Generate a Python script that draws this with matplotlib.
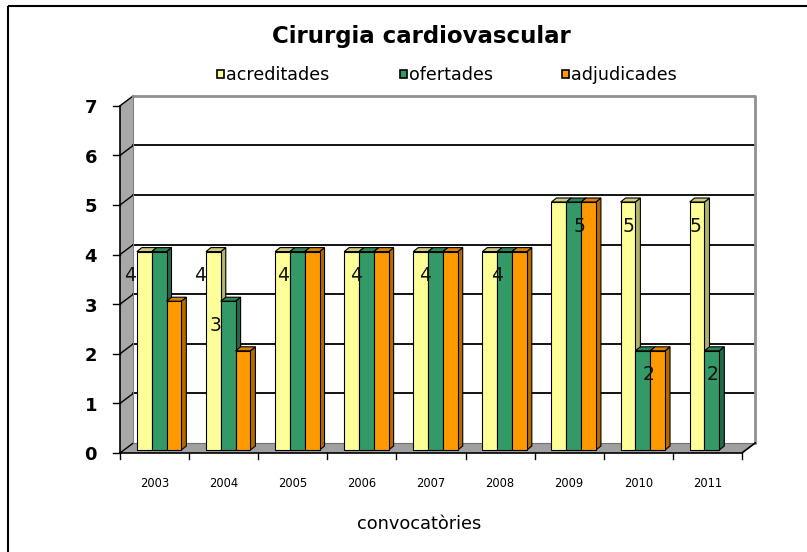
import matplotlib
matplotlib.use("Agg")
import matplotlib.pyplot as plt
from matplotlib.patches import Polygon, Rectangle

# ---------------- data ----------------
years = ["2003", "2004", "2005", "2006", "2007", "2008", "2009", "2010", "2011"]
acreditades = [4, 4, 4, 4, 4, 4, 5, 5, 5]
ofertades = [4, 3, 4, 4, 4, 4, 5, 2, 2]
adjudicades = [3, 2, 4, 4, 4, 4, 5, 2, 0]
series_names = ["acreditades", "ofertades", "adjudicades"]
y_ticks = [0, 1, 2, 3, 4, 5, 6, 7]
title = "Cirurgia cardiovascular"
x_title = "convocatòries"

# data labels shown in the chart: (category index, series name)
label_cats = [0, 1, 1, 2, 3, 4, 5, 6, 7, 7, 8, 8]
label_series = ["acreditades", "acreditades", "ofertades", "acreditades", "acreditades",
                "acreditades", "acreditades", "adjudicades", "acreditades", "adjudicades",
                "acreditades", "ofertades"]

# ---------------- style ----------------
face_cols = ["#FFFF99", "#339966", "#FF9900"]
side_cols = ["#B3B36B", "#23694A", "#B36B00"]
top_cols = ["#CCCC7A", "#2B8557", "#D98200"]
label_xoff = [0.152, 0.158, 0.382, 0.359, 0.415, 0.408, 0.45, 0.653, 0.362, 0.651, 0.326, 0.58]

W, H = 807, 552
PX_X0, PX_CAT = 120.0, 69.1     # pixel of x=0 and pixels per category
PX_Y0, PX_UNIT = 453.0, 49.6    # pixel of y=0 and pixels per unit

def dx(px):  # pixel distance -> data x distance
    return px / PX_CAT

def dy(px):
    return px / PX_UNIT

def X(px):
    return (px - PX_X0) / PX_CAT

def Y(py):
    return (PX_Y0 - py) / PX_UNIT

DX, DY = dx(13.3), dy(10.0)          # wall depth
BY0 = dy(3.0)                        # bar front face base
BDX, BDY = dx(5.0), dy(4.0)          # bar depth
BAR_PAD, BAR_W = 0.244, 0.2145
XR = len(years) + DX
YT = max(y_ticks)

fig = plt.figure(figsize=(W / 100, H / 100), dpi=100)
ax = fig.add_axes([0, 0, 1, 1])
ax.set_xlim(X(0), X(W))
ax.set_ylim(Y(H), Y(0))
ax.axis("off")

# outer frame
ax.add_patch(Rectangle((X(8), Y(6)), X(W + 20) - X(8), Y(H + 20) - Y(6),
                       fill=False, ec="black", lw=1.5, clip_on=False))

# back wall
ax.add_patch(Polygon([(DX, DY), (XR, DY), (XR, YT + DY), (DX, YT + DY)],
                     closed=True, fc="white", ec="none", zorder=1))
# left wall
ax.add_patch(Polygon([(0, 0), (DX, DY), (DX, YT + DY), (0, YT)],
                     closed=True, fc="#A8A8A8", ec="none", zorder=1))
# floor
ax.add_patch(Polygon([(0, 0), (len(years), 0), (XR, DY), (DX, DY)],
                     closed=True, fc="#A0A0A0", ec="none", zorder=1))

# gridlines on back wall + left wall
for v in y_ticks[1:-1]:
    ax.plot([DX, XR], [v + DY, v + DY], color="black", lw=1.3, zorder=2)
for v in y_ticks:
    ax.plot([0, DX], [v, v + DY], color="black", lw=1.0, zorder=2)
    ax.plot([-dx(7), 0], [v, v], color="black", lw=1.0, zorder=2)
    ax.text(X(97), v - dy(7.5), str(v), ha="right", va="baseline",
            fontsize=13, fontweight="bold", family="DejaVu Sans", zorder=3)

# wall borders
ax.plot([DX, XR, XR], [YT + DY, YT + DY, DY], color="#909090", lw=2.0, zorder=2)
ax.plot([DX, DX], [DY, YT + DY], color="#808080", lw=0.8, zorder=2)
ax.plot([DX, XR], [DY, DY], color="#707070", lw=0.8, zorder=2)
# front axes
ax.plot([0, 0], [0, YT], color="black", lw=1.2, zorder=2)
ax.plot([0, len(years), XR], [0, 0, DY], color="black", lw=1.2, zorder=2)
for i in range(len(years) + 1):
    ax.plot([i, i], [0, -dy(6)], color="black", lw=1.0, zorder=2)

# bars
data = {"acreditades": acreditades, "ofertades": ofertades, "adjudicades": adjudicades}
for i in range(len(years)):
    for j, name in enumerate(series_names):
        h = data[name][i]
        if h <= 0:
            continue
        x0 = i + BAR_PAD + j * BAR_W
        y0 = BY0
        kw = dict(ec="black", lw=0.8, zorder=4 + i * 3 + j, joinstyle="miter")
        ax.add_patch(Polygon([(x0 + BAR_W, y0), (x0 + BAR_W + BDX, y0 + BDY),
                              (x0 + BAR_W + BDX, y0 + h + BDY), (x0 + BAR_W, y0 + h)],
                             closed=True, fc=side_cols[j], **kw))
        ax.add_patch(Polygon([(x0, y0 + h), (x0 + BAR_W, y0 + h),
                              (x0 + BAR_W + BDX, y0 + h + BDY), (x0 + BDX, y0 + h + BDY)],
                             closed=True, fc=top_cols[j], **kw))
        ax.add_patch(Rectangle((x0, y0), BAR_W, h, fc=face_cols[j], **kw))

# data labels
for k, (ci, sn) in enumerate(zip(label_cats, label_series)):
    v = data[sn][ci]
    ax.text(ci + label_xoff[k], v - dy(21), str(v), ha="center", va="center",
            fontsize=13.5, family="DejaVu Sans", color="#111111", zorder=100)

# category labels
for i, yr in enumerate(years):
    ax.text(i + 0.5, Y(487), yr, ha="center", va="baseline", fontsize=8.3,
            family="DejaVu Sans", zorder=3)

# axis title and chart title
ax.text(X(419), Y(529), x_title, ha="center", va="baseline", fontsize=12.8,
        family="DejaVu Sans")
ax.text(X(421.7), Y(43.3), title, ha="center", va="baseline", fontsize=16.5,
        fontweight="bold", family="DejaVu Sans")

# legend
leg_px = [217, 400, 562]
for j, name in enumerate(series_names):
    ax.add_patch(Rectangle((X(leg_px[j]), Y(77.5)), dx(6.5), dy(7.5),
                           fc=face_cols[j], ec="black", lw=1.2, clip_on=False))
    ax.text(X(leg_px[j] + 8.5), Y(80), name, ha="left", va="baseline",
            fontsize=12.6, family="DejaVu Sans")

fig.savefig("out.png", dpi=100)
